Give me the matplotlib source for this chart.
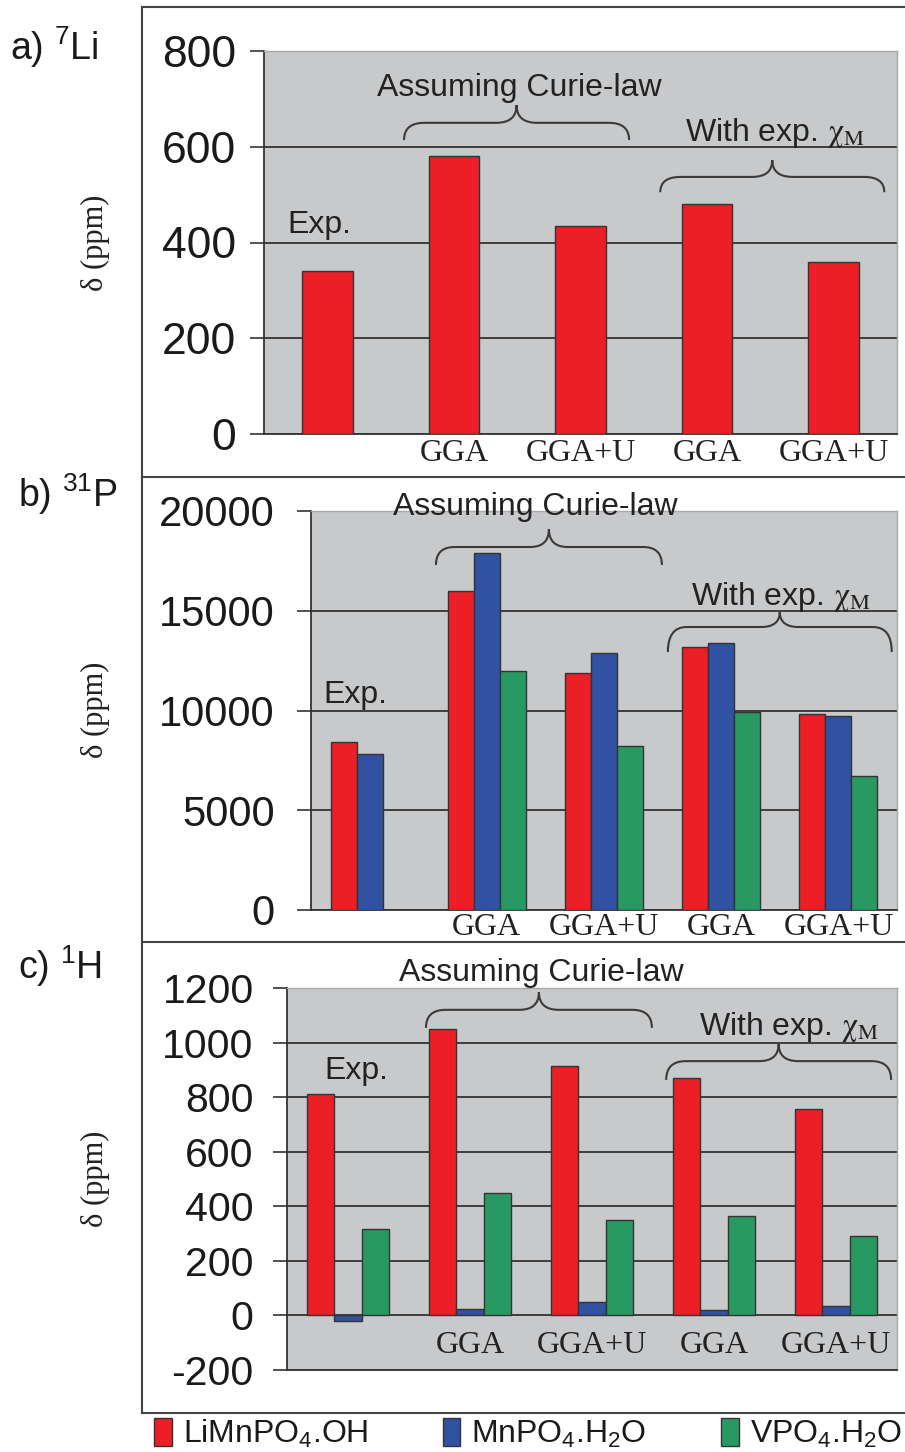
import numpy as np
import matplotlib
matplotlib.use("Agg")
import matplotlib.pyplot as plt
from matplotlib.path import Path
from matplotlib.patches import PathPatch, Patch
from matplotlib.lines import Line2D
from matplotlib import font_manager

# ---------------- data ----------------
categories = ["Exp.", "GGA", "GGA+U", "GGA", "GGA+U"]
xtick_labels = ["", "GGA", "GGA+U", "GGA", "GGA+U"]
series_names = ["LiMnPO$\\mathregular{_4}$.OH", "MnPO$\\mathregular{_4}$.H$\\mathregular{_2}$O",
                "VPO$\\mathregular{_4}$.H$\\mathregular{_2}$O"]

li_LiMnPO4 = [340, 580, 435, 480, 360]

p_LiMnPO4 = [8400, 16000, 11900, 13200, 9800]
p_MnPO4 = [7800, 17900, 12900, 13400, 9700]
p_VPO4 = [np.nan, 12000, 8200, 9900, 6700]

h_LiMnPO4 = [810, 1050, 915, 870, 755]
h_MnPO4 = [-20, 25, 50, 20, 35]
h_VPO4 = [315, 450, 350, 365, 290]

yticks_a = [0, 200, 400, 600, 800]
yticks_b = [0, 5000, 10000, 15000, 20000]
yticks_c = [-200, 0, 200, 400, 600, 800, 1000, 1200]

# ---------------- style ----------------
RED = "#EC1F26"
BLUE = "#3151A3"
GREEN = "#299963"
GRAYBG = "#C8C9CB"
DARK = "#333333"

names = {f.name for f in font_manager.fontManager.ttflist}
SANS = "Liberation Sans" if "Liberation Sans" in names else "DejaVu Sans"
SERIF = "Liberation Serif" if "Liberation Serif" in names else "DejaVu Serif"
NARROW = "Liberation Sans Narrow" if "Liberation Sans Narrow" in names else SANS
legend_size = 27 if NARROW != SANS else 23

plt.rcParams["font.family"] = [SANS, "DejaVu Sans"]
plt.rcParams["axes.unicode_minus"] = False
plt.rcParams["mathtext.fontset"] = "stix"

W, H = 905, 1452
fig = plt.figure(figsize=(W / 100, H / 100), dpi=100)


def rect(l, t, r, b):
    return [l / W, 1 - b / H, (r - l) / W, (b - t) / H]


x = np.arange(len(categories))


def style_axes(ax, yticks, ylim, tick_size, pad):
    ax.set_facecolor(GRAYBG)
    ax.set_xlim(-0.5, len(categories) - 0.5)
    ax.set_ylim(*ylim)
    ax.set_yticks(yticks)
    ax.set_yticklabels([str(v) for v in yticks], fontsize=tick_size, family=SANS, color="#1a1a1a")
    ax.set_xticks([])
    ax.tick_params(axis="y", length=10, width=1.2, color=DARK, pad=pad, direction="out")
    ax.set_axisbelow(True)
    ax.grid(axis="y", color=DARK, lw=1.3)
    gl = ax.get_ygridlines()
    gl[-1].set_visible(False)
    for s in ["top", "right"]:
        ax.spines[s].set_color("#A8A8A8")
        ax.spines[s].set_linewidth(1.0)
    ax.spines["left"].set_color(DARK)
    ax.spines["left"].set_linewidth(1.3)
    ax.spines["bottom"].set_color(DARK)
    ax.spines["bottom"].set_linewidth(1.3)


def brace(ax, xc, half, y_h, y_end, y_tip, r=0.16):
    x0, x1 = xc - half, xc + half
    verts = [(x0, y_end), (x0, y_h), (x0 + r, y_h),
             (xc - r, y_h), (xc, y_h), (xc, y_tip),
             (xc, y_h), (xc + r, y_h),
             (x1 - r, y_h), (x1, y_h), (x1, y_end)]
    codes = [Path.MOVETO, Path.CURVE3, Path.CURVE3,
             Path.LINETO, Path.CURVE3, Path.CURVE3,
             Path.CURVE3, Path.CURVE3,
             Path.LINETO, Path.CURVE3, Path.CURVE3]
    ax.add_patch(PathPatch(Path(verts, codes), fill=False, ec="#3a3a3a", lw=1.5,
                           clip_on=False, zorder=5))


def annotate(ax, exp_xy, curie_xy, chi_xy, size=23):
    kw = dict(ha="center", va="center", fontsize=size, color="#222222", clip_on=False, zorder=6)
    ax.text(*exp_xy, "Exp.", **kw)
    ax.text(*curie_xy, "Assuming Curie-law", **kw)
    ax.text(*chi_xy, "With exp. $\\mathrm{\\chi}_{\\mathrm{M}}$", **kw)


def cat_labels(ax, yfrac):
    for xi, lab in zip(x, xtick_labels):
        ax.text(xi, yfrac, lab, transform=ax.get_xaxis_transform(), ha="center", va="center",
                fontsize=23, family=SERIF, color="#222222", clip_on=False)


edge = dict(edgecolor=DARK, linewidth=1.0, zorder=3)

# ---------------- panel a ----------------
axa = fig.add_axes(rect(264, 51, 897, 434))
style_axes(axa, yticks_a, (0, 800), 32, 10)
axa.bar(x, li_LiMnPO4, width=0.4, color=RED, **edge)
cat_labels(axa, -0.05)
annotate(axa, (-0.06, 436), (1.52, 723), (3.54, 629))
brace(axa, 1.495, 0.889, 650, 614, 687)
brace(axa, 3.515, 0.885, 537, 505, 572)

# ---------------- panel b ----------------
axb = fig.add_axes(rect(311, 511, 897, 910))
style_axes(axb, yticks_b, (0, 20000), 30, 16)
wb = 0.222
axb.bar(x - wb, p_LiMnPO4, width=wb, color=RED, **edge)
axb.bar(x, p_MnPO4, width=wb, color=BLUE, **edge)
axb.bar(x + wb, p_VPO4, width=wb, color=GREEN, **edge)
cat_labels(axb, -0.043)
annotate(axb, (-0.12, 10780), (1.41, 20200), (3.51, 15690))
brace(axb, 1.53, 0.964, 18195, 17293, 19098)
brace(axb, 3.50, 0.955, 14185, 12932, 14937)

# ---------------- panel c ----------------
axc = fig.add_axes(rect(287, 988, 897, 1370))
style_axes(axc, yticks_c, (-200, 1200), 29.5, 14)
wc = 0.225
axc.bar(x - wc, h_LiMnPO4, width=wc, color=RED, **edge)
axc.bar(x, h_MnPO4, width=wc, color=BLUE, **edge)
axc.bar(x + wc, h_VPO4, width=wc, color=GREEN, **edge)
cat_labels(axc, 0.065)
annotate(axc, (0.066, 896), (1.586, 1255), (3.615, 1057))
brace(axc, 1.565, 0.926, 1120, 1054, 1185)
brace(axc, 3.53, 0.922, 932, 863, 995)

# ---------------- y labels & panel labels ----------------
for yc in [243, 710, 1179]:
    fig.text(95 / W, 1 - yc / H, "δ (ppm)", rotation=90, ha="center", va="center",
             fontsize=22, family=SERIF, color="#222222")

fig.text(10 / W, 1 - 47 / H, "a) $\\mathregular{^7}$Li", ha="left", va="center", fontsize=27, color="#1a1a1a")
fig.text(18 / W, 1 - 494 / H, "b) $\\mathregular{^{31}}$P", ha="left", va="center", fontsize=27, color="#1a1a1a")
fig.text(18 / W, 1 - 966 / H, "c) $\\mathregular{^1}$H", ha="left", va="center", fontsize=27, color="#1a1a1a")

# ---------------- frames ----------------
fc = "#444444"
fig.add_artist(Line2D([142 / W, 142 / W], [1 - 7 / H, 1 - 1413 / H], color=fc, lw=1.5, transform=fig.transFigure))
for yy in [7, 477, 942, 1413]:
    fig.add_artist(Line2D([142 / W, 1.0], [1 - yy / H, 1 - yy / H], color=fc, lw=1.5, transform=fig.transFigure))

# ---------------- legend ----------------
handles = [Patch(facecolor=c, edgecolor=DARK, lw=1.0) for c in [RED, BLUE, GREEN]]
leg = fig.legend(handles, series_names, loc="lower left", ncol=3, mode="expand",
                 bbox_to_anchor=(154 / W, 1 - 1450 / H, 748 / W, 40 / H),
                 frameon=False, handlelength=0.55, handleheight=0.95, handletextpad=0.35,
                 borderaxespad=0.0, borderpad=0.0,
                 prop={"family": NARROW, "size": legend_size})
for t in leg.get_texts():
    t.set_color("#1a1a1a")

fig.savefig("out.png", dpi=100)
